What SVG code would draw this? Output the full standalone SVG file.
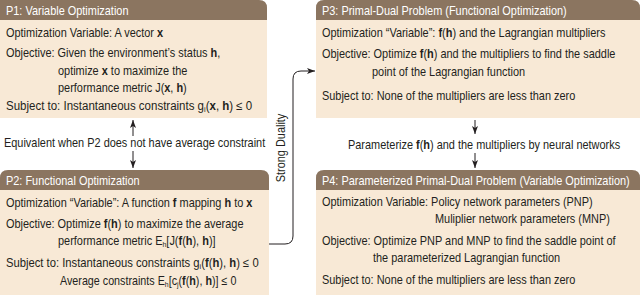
<svg xmlns="http://www.w3.org/2000/svg" width="640" height="295" viewBox="0 0 640 295">
<defs>
<style>
.hd{fill:#8b7560}
.bd{fill:#f8e9d6}
.t{font-family:"Liberation Sans",Arial,sans-serif;font-size:12.5px;fill:#231f20}
.h{font-family:"Liberation Sans",Arial,sans-serif;font-size:12.5px;fill:#ffffff}
.b{font-weight:bold}
.s{font-size:8px}
.ln{fill:none;stroke:#231f20;stroke-width:1}
</style>
<marker id="ah" viewBox="0 0 8 6" refX="8" refY="3" markerWidth="8" markerHeight="6" orient="auto" markerUnits="userSpaceOnUse">
<path d="M0,0 L8,3 L0,6 L2,3 z" fill="#231f20"/>
</marker>
</defs>
<rect width="640" height="295" fill="#ffffff"/>

<g id="P1">
<path class="bd" d="M0,20 H267 V118 H0 Z"/>
<path class="hd" d="M0,0 H259 Q267,0 267,8 V20 H0 Z"/>
<text class="h" transform="matrix(0.875 0 0 1 6 15)">P1: Variable Optimization</text>
<text class="t" transform="matrix(0.875 0 0 1 6 37)">Optimization Variable: A vector <tspan class="b">x</tspan></text>
<text class="t" transform="matrix(0.875 0 0 1 6 57)">Objective: Given the environment’s status <tspan class="b">h</tspan>,</text>
<text class="t" transform="matrix(0.875 0 0 1 58 75)">optimize <tspan class="b">x</tspan> to maximize the</text>
<text class="t" transform="matrix(0.875 0 0 1 58 92)">performance metric J(<tspan class="b">x</tspan>, <tspan class="b">h</tspan>)</text>
<text class="t" transform="matrix(0.92 0 0 1 6 110)">Subject to: Instantaneous constraints g<tspan class="s" dy="2">i</tspan><tspan dy="-2">(</tspan><tspan class="b">x</tspan>, <tspan class="b">h</tspan>) ≤ 0</text>
</g>

<g id="P2">
<path class="bd" d="M0,190 H269 V295 H0 Z"/>
<path class="hd" d="M8,170 H261 Q269,170 269,178 V190 H0 V178 Q0,170 8,170 Z"/>
<text class="h" transform="matrix(0.875 0 0 1 6 185)">P2: Functional Optimization</text>
<text class="t" transform="matrix(0.875 0 0 1 6 207)">Optimization “Variable”: A function <tspan class="b">f</tspan> mapping <tspan class="b">h</tspan> to <tspan class="b">x</tspan></text>
<text class="t" transform="matrix(0.875 0 0 1 6 228)">Objective: Optimize <tspan class="b">f</tspan>(<tspan class="b">h</tspan>) to maximize the average</text>
<text class="t" transform="matrix(0.875 0 0 1 58 245)">performance metric E<tspan class="s" dy="2">h</tspan><tspan dy="-2">[J(</tspan><tspan class="b">f</tspan>(<tspan class="b">h</tspan>), <tspan class="b">h</tspan>)]</text>
<text class="t" transform="matrix(0.9 0 0 1 6 267)">Subject to: Instantaneous constraints g<tspan class="s" dy="2">i</tspan><tspan dy="-2">(</tspan><tspan class="b">f</tspan>(<tspan class="b">h</tspan>), <tspan class="b">h</tspan>) ≤ 0</text>
<text class="t" transform="matrix(0.86 0 0 1 60 285)">Average constraints E<tspan class="s" dy="2">h</tspan><tspan dy="-2">[c</tspan><tspan class="s" dy="2">j</tspan><tspan dy="-2">(</tspan><tspan class="b">f</tspan>(<tspan class="b">h</tspan>), <tspan class="b">h</tspan>)] ≤ 0</text>
</g>

<g id="P3">
<path class="bd" d="M316,20 H640 V118 H316 Z"/>
<path class="hd" d="M324,0 H632 Q640,0 640,8 V20 H316 V8 Q316,0 324,0 Z"/>
<text class="h" transform="matrix(0.875 0 0 1 322 15)">P3: Primal-Dual Problem (Functional Optimization)</text>
<text class="t" transform="matrix(0.875 0 0 1 322 37)">Optimization “Variable”: <tspan class="b">f</tspan>(<tspan class="b">h</tspan>) and the Lagrangian multipliers</text>
<text class="t" transform="matrix(0.875 0 0 1 322 58)">Objective: Optimize <tspan class="b">f</tspan>(<tspan class="b">h</tspan>) and the multipliers to find the saddle</text>
<text class="t" transform="matrix(0.875 0 0 1 372 76)">point of the Lagrangian function</text>
<text class="t" transform="matrix(0.875 0 0 1 322 100)">Subject to: None of the multipliers are less than zero</text>
</g>

<g id="P4">
<path class="bd" d="M316,190 H640 V295 H316 Z"/>
<path class="hd" d="M324,170 H632 Q640,170 640,178 V190 H316 V178 Q316,170 324,170 Z"/>
<text class="h" transform="matrix(0.875 0 0 1 322 185)">P4: Parameterized Primal-Dual Problem (Variable Optimization)</text>
<text class="t" transform="matrix(0.875 0 0 1 322 206)">Optimization Variable: Policy network parameters (PNP)</text>
<text class="t" transform="matrix(0.875 0 0 1 435 223)">Muliplier network parameters (MNP)</text>
<text class="t" transform="matrix(0.875 0 0 1 322 245)">Objective: Optimize PNP and MNP to find the saddle point of</text>
<text class="t" transform="matrix(0.875 0 0 1 373 262)">the parameterized Lagrangian function</text>
<text class="t" transform="matrix(0.875 0 0 1 322 284)">Subject to: None of the multipliers are less than zero</text>
</g>

<g id="connectors">
<line class="ln" x1="133" y1="136" x2="133" y2="120" marker-end="url(#ah)"/>
<line class="ln" x1="133" y1="151" x2="133" y2="168" marker-end="url(#ah)"/>
<text class="t" transform="matrix(0.875 0 0 1 4 147)">Equivalent when P2 does not have average constraint</text>
<path class="ln" d="M269,244 H285 Q293,244 293,236 V79 Q293,71 301,71 H315" marker-end="url(#ah)"/>
<text class="t" transform="translate(285,148) rotate(-90) scale(0.875,1)" text-anchor="middle">Strong Duality</text>
<line class="ln" x1="475" y1="120" x2="475" y2="134" marker-end="url(#ah)"/>
<text class="t" transform="matrix(0.875 0 0 1 348 149)">Parameterize <tspan class="b">f</tspan>(<tspan class="b">h</tspan>) and the multipliers by neural networks</text>
<line class="ln" x1="475" y1="153" x2="475" y2="168" marker-end="url(#ah)"/>
</g>
</svg>
